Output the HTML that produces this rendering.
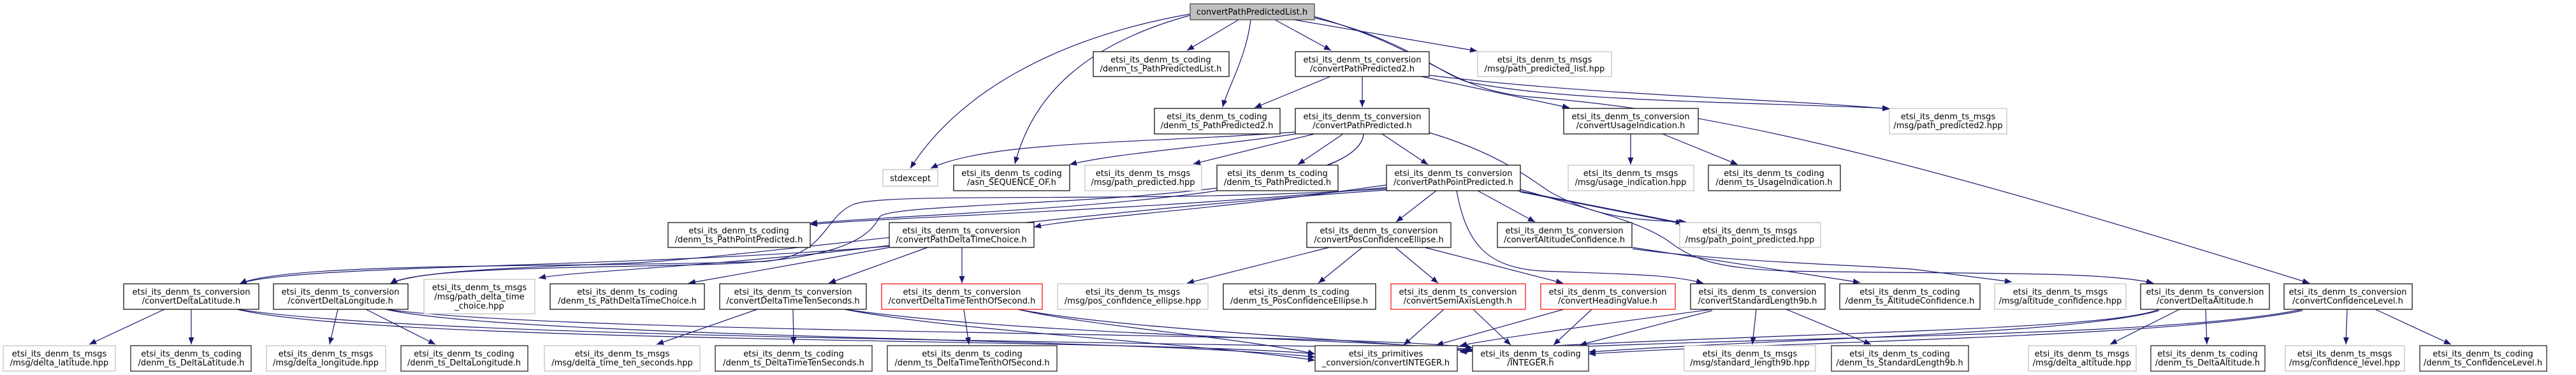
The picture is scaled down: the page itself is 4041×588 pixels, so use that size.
<!DOCTYPE html>
<html><head><meta charset="utf-8"><style>
html,body{margin:0;padding:0;background:#fff;}
svg{display:block;}
text{font-family:"DejaVu Sans","Liberation Sans",sans-serif;font-size:13px;fill:#000;text-anchor:middle;}
.n{fill:#fff;stroke:#000;stroke-width:1.2;}
.g{fill:#fff;stroke:#bfbfbf;stroke-width:1.2;}
.r{fill:#fff;stroke:#ff0000;stroke-width:1.2;}
.d{fill:#fff;stroke:#404040;stroke-width:1.5;}
.e{fill:none;stroke:#191970;stroke-width:1.2;}
</style></head><body>
<svg width="4041" height="588" viewBox="0 0 4041 588" xmlns="http://www.w3.org/2000/svg">
<defs><marker id="a" markerUnits="userSpaceOnUse" markerWidth="12" markerHeight="10" refX="11" refY="4.5" orient="auto"><path d="M0,0 L11,4.5 L0,9 z" fill="#191970"/></marker></defs>
<g class="e" marker-end="url(#a)">
<path d="M1867,22 C1650,60 1500,150 1428,264"/>
<path d="M1867,24 C1700,70 1620,150 1592,257"/>
<path d="M1943,31 L1862,79"/>
<path d="M1962,31 C1955,90 1925,140 1918,168"/>
<path d="M2000,31 L2088,79"/>
<path d="M2030,31 L2317,80"/>
<path d="M2062,28 C2200,60 2250,110 2300,128 C2450,160 2750,160 2964,170"/>
<path d="M2062,26 C2250,80 2270,140 2400,152 C2700,175 3000,250 3623,444"/>
<path d="M2087,120 L1968,169"/>
<path d="M2137,120 L2137,168"/>
<path d="M2230,120 L2462,169"/>
<path d="M2242,118 C2500,150 2800,155 2964,171"/>
<path d="M2558,210 L2558,258"/>
<path d="M2608,210 L2726,258"/>
<path d="M2032,207 C1800,225 1550,220 1460,264"/>
<path d="M2032,210 C1900,230 1750,240 1678,258"/>
<path d="M2062,210 L1872,257"/>
<path d="M2107,210 L2036,258"/>
<path d="M2168,210 L2240,258"/>
<path d="M2242,208 C2350,240 2400,280 2430,300 C2500,340 2560,345 2645,348"/>
<path d="M2139,210 C2130,320 1500,330 1271,350"/>
<path d="M2175,290 C1900,330 1700,340 1622,356"/>
<path d="M2175,294 C1800,330 1400,340 1271,352"/>
<path d="M2175,296 C1800,320 1400,300 1340,320 C1290,340 1300,400 1200,410 C900,420 450,410 376,445"/>
<path d="M2139,210 C2130,330 1400,310 1380,340 C1360,380 1300,410 1100,415 C900,420 650,420 612,445"/>
<path d="M2175,298 C1700,330 1200,400 1000,412 C800,420 650,425 612,445"/>
<path d="M1395,386 C1000,420 450,415 376,445"/>
<path d="M2253,299 L2190,348"/>
<path d="M2318,299 L2408,348"/>
<path d="M2380,299 L2640,350"/>
<path d="M2385,301 L2645,352"/>
<path d="M2285,299 C2300,380 2330,420 2420,425 C2550,430 2620,430 2672,444"/>
<path d="M2385,297 C2500,330 2580,350 2620,380 C2660,410 2700,420 2800,425 C3100,430 3300,425 3378,444"/>
<path d="M2561,388 L2918,443"/>
<path d="M2561,390 C2700,410 2900,415 3000,422 L3156,442"/>
<path d="M1395,385 C1100,420 900,425 845,436"/>
<path d="M1395,388 L1080,444"/>
<path d="M1455,388 L1300,444"/>
<path d="M1509,388 L1509,444"/>
<path d="M2085,388 L1862,444"/>
<path d="M2137,388 L2068,444"/>
<path d="M2189,388 L2256,444"/>
<path d="M2235,388 L2452,444"/>
<path d="M258,485 L140,540"/>
<path d="M300,485 L300,540"/>
<path d="M372,485 C600,540 1800,530 2063,555"/>
<path d="M372,485 C700,535 2000,535 2310,550"/>
<path d="M530,485 L517,540"/>
<path d="M574,485 L683,540"/>
<path d="M605,485 C800,530 1800,530 2063,560"/>
<path d="M605,485 C900,525 2100,520 2310,545"/>
<path d="M1188,485 L1030,540"/>
<path d="M1244,485 L1245,540"/>
<path d="M1325,485 C1500,520 1900,540 2063,565"/>
<path d="M1325,485 C1600,525 2100,530 2310,548"/>
<path d="M1512,485 L1520,540"/>
<path d="M1597,485 C1700,510 1950,530 2063,555"/>
<path d="M1597,485 C1750,515 2100,530 2310,550"/>
<path d="M2265,485 L2202,541"/>
<path d="M2311,485 L2370,541"/>
<path d="M2453,485 L2253,541"/>
<path d="M2497,485 L2437,541"/>
<path d="M2686,485 C2500,510 2350,530 2290,542"/>
<path d="M2686,487 L2478,541"/>
<path d="M2755,485 L2749,540"/>
<path d="M2802,485 L2935,540"/>
<path d="M3419,485 L3310,540"/>
<path d="M3460,485 L3462,540"/>
<path d="M3387,485 C3300,520 2800,520 2290,550"/>
<path d="M3387,487 C3250,525 2800,530 2492,552"/>
<path d="M3682,485 L3680,540"/>
<path d="M3726,485 L3845,540"/>
<path d="M3612,485 C3400,530 2800,525 2290,552"/>
<path d="M3612,487 C3400,530 2800,535 2492,555"/>
</g>

<rect x="1867" y="6" width="195" height="25" fill="#bfbfbf" stroke="#404040" stroke-width="1.2"/>
<text x="1964" y="23">convertPathPredictedList.h</text>

<rect class="n" x="1715" y="81" width="213" height="39"/><text x="1821" y="98">etsi_its_denm_ts_coding</text><text x="1821" y="112">/denm_ts_PathPredictedList.h</text>
<rect class="n" x="2032" y="81" width="210" height="39"/><text x="2137" y="98">etsi_its_denm_ts_conversion</text><text x="2137" y="112">/convertPathPredicted2.h</text>
<rect class="g" x="2318" y="81" width="210" height="39"/><text x="2423" y="98">etsi_its_denm_ts_msgs</text><text x="2423" y="112">/msg/path_predicted_list.hpp</text>

<rect class="n" x="1811" y="170" width="197" height="40"/><text x="1909" y="187">etsi_its_denm_ts_coding</text><text x="1909" y="201">/denm_ts_PathPredicted2.h</text>
<rect class="n" x="2032" y="170" width="210" height="40"/><text x="2137" y="187">etsi_its_denm_ts_conversion</text><text x="2137" y="201">/convertPathPredicted.h</text>
<rect class="n" x="2453" y="170" width="211" height="40"/><text x="2558" y="187">etsi_its_denm_ts_conversion</text><text x="2558" y="201">/convertUsageIndication.h</text>
<rect class="g" x="2964" y="170" width="184" height="40"/><text x="3056" y="187">etsi_its_denm_ts_msgs</text><text x="3056" y="201">/msg/path_predicted2.hpp</text>

<rect class="g" x="1385" y="266" width="86" height="26"/><text x="1428" y="284">stdexcept</text>
<rect class="n" x="1496" y="259" width="182" height="40"/><text x="1587" y="276">etsi_its_denm_ts_coding</text><text x="1587" y="290">/asn_SEQUENCE_OF.h</text>
<rect class="g" x="1702" y="259" width="183" height="40"/><text x="1793" y="276">etsi_its_denm_ts_msgs</text><text x="1793" y="290">/msg/path_predicted.hpp</text>
<rect class="n" x="1909" y="259" width="190" height="40"/><text x="2004" y="276">etsi_its_denm_ts_coding</text><text x="2004" y="290">/denm_ts_PathPredicted.h</text>
<rect class="n" x="2175" y="259" width="210" height="40"/><text x="2280" y="276">etsi_its_denm_ts_conversion</text><text x="2280" y="290">/convertPathPointPredicted.h</text>
<rect class="g" x="2460" y="259" width="197" height="40"/><text x="2558" y="276">etsi_its_denm_ts_msgs</text><text x="2558" y="290">/msg/usage_indication.hpp</text>
<rect class="n" x="2680" y="259" width="207" height="40"/><text x="2783" y="276">etsi_its_denm_ts_coding</text><text x="2783" y="290">/denm_ts_UsageIndication.h</text>

<rect class="n" x="1048" y="349" width="223" height="39"/><text x="1159" y="366">etsi_its_denm_ts_coding</text><text x="1159" y="380">/denm_ts_PathPointPredicted.h</text>
<rect class="n" x="1395" y="349" width="227" height="39"/><text x="1508" y="366">etsi_its_denm_ts_conversion</text><text x="1508" y="380">/convertPathDeltaTimeChoice.h</text>
<rect class="n" x="2050" y="349" width="226" height="39"/><text x="2163" y="366">etsi_its_denm_ts_conversion</text><text x="2163" y="380">/convertPosConfidenceEllipse.h</text>
<rect class="n" x="2349" y="349" width="211" height="39"/><text x="2454" y="366">etsi_its_denm_ts_conversion</text><text x="2454" y="380">/convertAltitudeConfidence.h</text>
<rect class="g" x="2635" y="349" width="221" height="39"/><text x="2745" y="366">etsi_its_denm_ts_msgs</text><text x="2745" y="380">/msg/path_point_predicted.hpp</text>

<rect class="n" x="194" y="445" width="212" height="40"/><text x="300" y="462">etsi_its_denm_ts_conversion</text><text x="300" y="476">/convertDeltaLatitude.h</text>
<rect class="n" x="429" y="445" width="211" height="40"/><text x="534" y="462">etsi_its_denm_ts_conversion</text><text x="534" y="476">/convertDeltaLongitude.h</text>
<rect class="g" x="665" y="438" width="174" height="54"/><text x="752" y="455">etsi_its_denm_ts_msgs</text><text x="752" y="469.5">/msg/path_delta_time</text><text x="752" y="484">_choice.hpp</text>
<rect class="n" x="863" y="445" width="242" height="40"/><text x="984" y="462">etsi_its_denm_ts_coding</text><text x="984" y="476">/denm_ts_PathDeltaTimeChoice.h</text>
<rect class="n" x="1129" y="445" width="230" height="40"/><text x="1244" y="462">etsi_its_denm_ts_conversion</text><text x="1244" y="476">/convertDeltaTimeTenSeconds.h</text>
<rect class="r" x="1383" y="445" width="252" height="40"/><text x="1509" y="462">etsi_its_denm_ts_conversion</text><text x="1509" y="476">/convertDeltaTimeTenthOfSecond.h</text>
<rect class="g" x="1659" y="445" width="236" height="40"/><text x="1777" y="462">etsi_its_denm_ts_msgs</text><text x="1777" y="476">/msg/pos_confidence_ellipse.hpp</text>
<rect class="n" x="1919" y="445" width="239" height="40"/><text x="2038" y="462">etsi_its_denm_ts_coding</text><text x="2038" y="476">/denm_ts_PosConfidenceEllipse.h</text>
<rect class="r" x="2182" y="445" width="211" height="40"/><text x="2287" y="462">etsi_its_denm_ts_conversion</text><text x="2287" y="476">/convertSemiAxisLength.h</text>
<rect class="r" x="2417" y="445" width="211" height="40"/><text x="2522" y="462">etsi_its_denm_ts_conversion</text><text x="2522" y="476">/convertHeadingValue.h</text>
<rect class="n" x="2652" y="445" width="211" height="40"/><text x="2757" y="462">etsi_its_denm_ts_conversion</text><text x="2757" y="476">/convertStandardLength9b.h</text>
<rect class="n" x="2886" y="445" width="220" height="40"/><text x="2996" y="462">etsi_its_denm_ts_coding</text><text x="2996" y="476">/denm_ts_AltitudeConfidence.h</text>
<rect class="g" x="3129" y="445" width="206" height="40"/><text x="3232" y="462">etsi_its_denm_ts_msgs</text><text x="3232" y="476">/msg/altitude_confidence.hpp</text>
<rect class="n" x="3358" y="445" width="202" height="40"/><text x="3459" y="462">etsi_its_denm_ts_conversion</text><text x="3459" y="476">/convertDeltaAltitude.h</text>
<rect class="n" x="3583" y="445" width="201" height="40"/><text x="3683" y="462">etsi_its_denm_ts_conversion</text><text x="3683" y="476">/convertConfidenceLevel.h</text>

<rect class="g" x="5" y="542" width="176" height="40"/><text x="93" y="559">etsi_its_denm_ts_msgs</text><text x="93" y="573">/msg/delta_latitude.hpp</text>
<rect class="d" x="205" y="542" width="189" height="40"/><text x="300" y="559">etsi_its_denm_ts_coding</text><text x="300" y="573">/denm_ts_DeltaLatitude.h</text>
<rect class="g" x="418" y="542" width="187" height="40"/><text x="511" y="559">etsi_its_denm_ts_msgs</text><text x="511" y="573">/msg/delta_longitude.hpp</text>
<rect class="d" x="629" y="542" width="199" height="40"/><text x="728" y="559">etsi_its_denm_ts_coding</text><text x="728" y="573">/denm_ts_DeltaLongitude.h</text>
<rect class="g" x="854" y="542" width="244" height="40"/><text x="976" y="559">etsi_its_denm_ts_msgs</text><text x="976" y="573">/msg/delta_time_ten_seconds.hpp</text>
<rect class="d" x="1122" y="542" width="246" height="40"/><text x="1245" y="559">etsi_its_denm_ts_coding</text><text x="1245" y="573">/denm_ts_DeltaTimeTenSeconds.h</text>
<rect class="d" x="1392" y="542" width="266" height="40"/><text x="1525" y="559">etsi_its_denm_ts_coding</text><text x="1525" y="573">/denm_ts_DeltaTimeTenthOfSecond.h</text>
<rect class="d" x="2063" y="542" width="223" height="40"/><text x="2174" y="559">etsi_its_primitives</text><text x="2174" y="573">_conversion/convertINTEGER.h</text>
<rect class="d" x="2310" y="542" width="182" height="40"/><text x="2401" y="559">etsi_its_denm_ts_coding</text><text x="2401" y="573">/INTEGER.h</text>
<rect class="g" x="2642" y="542" width="206" height="40"/><text x="2745" y="559">etsi_its_denm_ts_msgs</text><text x="2745" y="573">/msg/standard_length9b.hpp</text>
<rect class="d" x="2873" y="542" width="215" height="40"/><text x="2980" y="559">etsi_its_denm_ts_coding</text><text x="2980" y="573">/denm_ts_StandardLength9b.h</text>
<rect class="g" x="3182" y="542" width="169" height="40"/><text x="3266" y="559">etsi_its_denm_ts_msgs</text><text x="3266" y="573">/msg/delta_altitude.hpp</text>
<rect class="d" x="3374" y="542" width="179" height="40"/><text x="3463" y="559">etsi_its_denm_ts_coding</text><text x="3463" y="573">/denm_ts_DeltaAltitude.h</text>
<rect class="g" x="3585" y="542" width="187" height="40"/><text x="3678" y="559">etsi_its_denm_ts_msgs</text><text x="3678" y="573">/msg/confidence_level.hpp</text>
<rect class="d" x="3796" y="542" width="199" height="40"/><text x="3895" y="559">etsi_its_denm_ts_coding</text><text x="3895" y="573">/denm_ts_ConfidenceLevel.h</text>
</svg>
</body></html>
